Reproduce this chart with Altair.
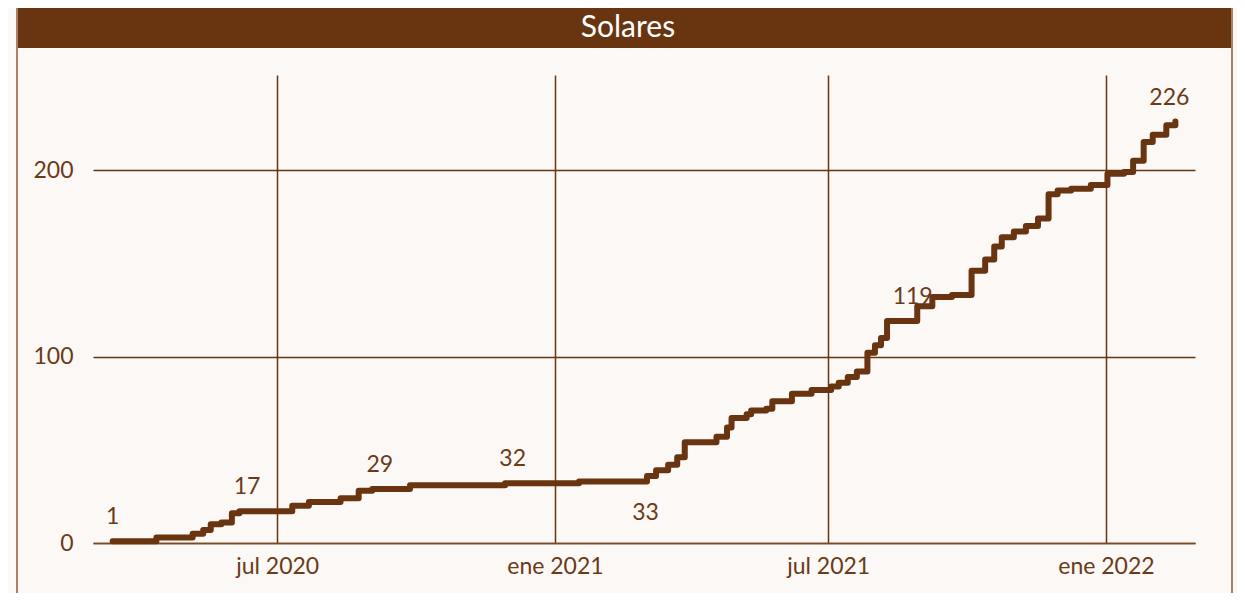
import altair as alt
import pandas as pd

# Step series (date of each change, cumulative count)
dates = [
    "2020-03-14", "2020-04-12", "2020-05-06", "2020-05-13", "2020-05-18", "2020-05-25",
    "2020-06-01", "2020-06-06", "2020-07-11", "2020-07-22", "2020-08-12", "2020-08-24",
    "2020-09-02", "2020-09-27", "2020-11-29", "2021-01-17", "2021-03-03", "2021-03-09",
    "2021-03-17", "2021-03-23", "2021-03-28", "2021-04-18", "2021-04-25", "2021-04-28",
    "2021-05-08", "2021-05-11", "2021-05-21", "2021-05-25", "2021-06-07", "2021-06-20",
    "2021-07-03", "2021-07-08", "2021-07-14", "2021-07-20", "2021-07-27", "2021-08-01",
    "2021-08-05", "2021-08-09", "2021-08-29", "2021-09-08", "2021-09-21", "2021-10-04",
    "2021-10-13", "2021-10-19", "2021-10-24", "2021-11-01", "2021-11-09", "2021-11-17",
    "2021-11-24", "2021-11-30", "2021-12-09", "2021-12-22", "2022-01-02", "2022-01-13",
    "2022-01-19", "2022-01-26", "2022-02-01", "2022-02-10", "2022-02-16",
]
values = [
    1, 3, 5, 7, 10, 11,
    16, 17, 20, 22, 24, 28,
    29, 31, 32, 33, 36, 39,
    42, 46, 54, 57, 62, 67,
    69, 71, 72, 76, 80, 82,
    84, 86, 89, 92, 102, 106,
    110, 119, 127, 132, 133, 146,
    152, 159, 164, 167, 170, 174,
    187, 189, 190, 192, 198, 199,
    205, 215, 219, 224, 226,
]

# Data labels
label_dates = ["2020-03-14", "2020-06-11", "2020-09-07", "2020-12-04", "2021-03-02", "2021-08-26", "2022-02-12"]
label_values = [1, 17, 29, 32, 33, 119, 226]
label_pos = ["above", "above", "above", "above", "below", "above", "above"]

title_text = ["Solares"]

BROWN = "#683510"
TEXT = "#6b3a18"
BG = "#fcf8f5"
FONT = "Lato"

df = pd.DataFrame({"fecha": dates, "valor": values})
lab = pd.DataFrame({"fecha": label_dates, "valor": label_values, "pos": label_pos})
one = pd.DataFrame({"t": title_text})

x_scale = alt.Scale(
    type="utc",
    domain=[alt.DateTime(year=2020, month=3, date=1, utc=True),
            alt.DateTime(year=2022, month=3, date=1, utc=True)],
)
y_scale = alt.Scale(domain=[0, 251], nice=False)

x_axis = alt.Axis(
    title=None,
    values=[alt.DateTime(year=2020, month=7, date=1, utc=True),
            alt.DateTime(year=2021, month=1, date=1, utc=True),
            alt.DateTime(year=2021, month=7, date=1, utc=True),
            alt.DateTime(year=2022, month=1, date=1, utc=True)],
    labelExpr="(utcmonth(datum.value) == 0 ? 'ene' : 'jul') + ' ' + utcyear(datum.value)",
    grid=True, gridColor=BROWN, gridWidth=1.5,
    ticks=False, tickSize=0,
    domain=True, domainColor="#7a4a2a", domainWidth=1.5,
    labelFont=FONT, labelFontSize=23, labelColor=TEXT, labelPadding=12,
)
y_axis = alt.Axis(
    title=None, values=[0, 100, 200],
    grid=True, gridColor=BROWN, gridWidth=1.5,
    ticks=False, tickSize=0, domain=False,
    labelFont=FONT, labelFontSize=23, labelColor=TEXT, labelPadding=20,
)

frame = alt.Chart(one).mark_rect(fill=None, stroke="#8a5a3a", strokeWidth=1.5).encode(
    x=alt.value(-76), x2=alt.value(1139), y=alt.value(-71), y2=alt.value(620)
)
bar = alt.Chart(one).mark_rect(fill=BROWN).encode(
    x=alt.value(-75), x2=alt.value(1138), y=alt.value(-69), y2=alt.value(-27)
)
title = alt.Chart(one).mark_text(
    font=FONT, fontSize=30, color="white", align="center", baseline="middle"
).encode(text="t:N", x=alt.value(535), y=alt.value(-47))

line = alt.Chart(df).mark_line(
    interpolate="step-after", color=BROWN, strokeWidth=6, strokeCap="round", strokeJoin="round"
).encode(
    x=alt.X("fecha:T", scale=x_scale, axis=x_axis),
    y=alt.Y("valor:Q", scale=y_scale, axis=y_axis),
)

labels_above = alt.Chart(lab).transform_filter("datum.pos == 'above'").mark_text(
    font=FONT, fontSize=23, color=TEXT, align="center", baseline="middle", dy=-24
).encode(x="fecha:T", y="valor:Q", text="valor:Q")
labels_below = alt.Chart(lab).transform_filter("datum.pos == 'below'").mark_text(
    font=FONT, fontSize=23, color=TEXT, align="center", baseline="middle", dy=32
).encode(x="fecha:T", y="valor:Q", text="valor:Q")

chart = alt.layer(frame, bar, title, line, labels_above, labels_below).properties(
    width=1102, height=468,
    autosize=alt.AutoSizeParams(type="none"),
    padding={"left": 85, "top": 67, "right": 42, "bottom": 50},
    background=BG,
).configure_view(stroke=None)

chart.save("out.html", embed_options={"renderer": "svg", "actions": False})
